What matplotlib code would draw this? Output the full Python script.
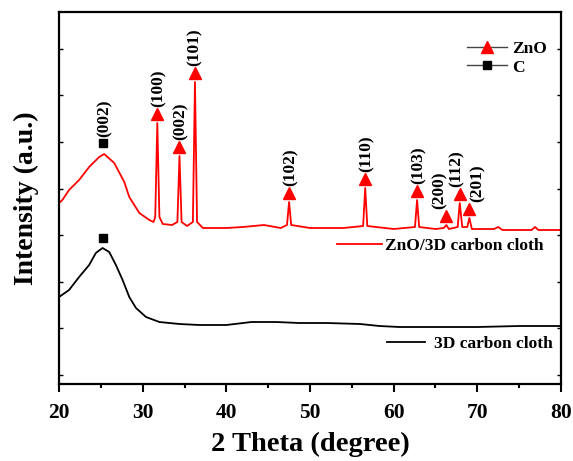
import numpy as np
import matplotlib.pyplot as plt
from matplotlib.lines import Line2D
from matplotlib.ticker import MultipleLocator, NullFormatter

plt.rcParams['font.family'] = ['Liberation Serif', 'DejaVu Serif']
plt.rcParams['font.weight'] = 'bold'

# 2 theta (degree) / intensity (a.u.)
cc_x = [20, 21.2, 22.4, 23.6, 24.4, 25.2, 26.0, 26.8, 27.6, 28.4, 29.2, 30.4, 32,
        34.4, 36.8, 40, 43, 46, 48.7, 52, 56, 58.3, 60.7, 65, 70, 75, 80]
cc_y = [78, 85, 98, 110, 122, 127, 123, 110, 95, 78, 67, 58, 53,
        51, 50, 50, 53, 53, 52, 52, 51, 49, 48, 48, 48, 49, 49]

zno_x = [20, 20.4, 21.2, 22.4, 23.6, 24.8, 25.4, 26.6, 27.8, 28.4, 29.6, 30.8, 31.3,
         31.5, 31.75, 32.0, 32.4, 33.5, 34.15, 34.4, 34.65, 35.3, 36.0, 36.25, 36.5,
         37.2, 40, 42, 44.5, 46.5, 47.25, 47.5, 47.75, 50, 54, 56.35, 56.6, 56.85, 60,
         62.55, 62.8, 63.05, 65, 66.0, 66.3, 66.6, 67.65, 67.9, 68.2, 68.8, 69.05, 69.35,
         72, 72.5, 73, 76.5, 76.9, 77.3, 80]
zno_y = [172, 175, 185, 195, 208, 218, 221, 212, 193, 178, 162, 155, 153,
         158, 252, 158, 151, 150, 153, 219, 153, 149, 153, 293, 153,
         147, 147, 148, 150, 147, 150, 173, 150, 147, 147, 149, 187, 149, 146,
         148, 175, 148, 146, 147, 150, 146, 148, 172, 148, 148, 157, 146,
         146, 148, 145, 145, 148, 145, 145]

zno_peaks = [31.75, 34.4, 36.25, 47.5, 56.6, 62.8, 66.3, 67.9, 69.05]
zno_hkl = ['(100)', '(002)', '(101)', '(102)', '(110)', '(103)', '(200)', '(112)', '(201)']
c_peak = 25.3
c_hkl = '(002)'

fig = plt.figure(figsize=(5.73, 4.61), dpi=100)
ax = fig.add_axes([0.103, 0.167, 0.876, 0.807])

l_cc, = ax.plot(cc_x, cc_y, color='black', lw=1.3)
l_zno, = ax.plot(zno_x, zno_y, color='red', lw=1.3)

# peak markers sit a little above each peak
peak_h = np.interp(zno_peaks, zno_x, zno_y) + 9
ax.plot(zno_peaks, peak_h, ls='none', marker='^', color='red', ms=8)
label_dx = [1, 1, 0, 1, 1, 1, -5, -2, 6]
for x, h, lab, dx in zip(zno_peaks, peak_h, zno_hkl, label_dx):
    ax.annotate(lab, (x, h), xytext=(dx, 5), textcoords='offset points',
                rotation=90, ha='center', va='bottom', fontsize=12.5, fontweight='bold')

c_h = [np.interp(c_peak, zno_x, zno_y) + 11, np.interp(c_peak, cc_x, cc_y) + 11]
ax.plot([c_peak, c_peak], c_h, ls='none', marker='s', color='black', ms=6)
ax.annotate(c_hkl, (c_peak, c_h[0]), xytext=(1, 5), textcoords='offset points',
            rotation=90, ha='center', va='bottom', fontsize=12.5, fontweight='bold')

ax.set_xlim(20, 80)
ax.set_ylim(-9, 363)
ax.xaxis.set_major_locator(MultipleLocator(10))
ax.xaxis.set_minor_locator(MultipleLocator(5))
ax.yaxis.set_major_locator(MultipleLocator(46.6))
ax.yaxis.set_major_formatter(NullFormatter())
ax.tick_params(axis='x', which='major', direction='out', length=6, width=1.5,
               labelsize=15.5, pad=8)
ax.tick_params(axis='x', which='minor', direction='out', length=3, width=1.5)
ax.tick_params(axis='y', direction='in', length=3, width=1, left=True, right=True)
for s in ax.spines.values():
    s.set_linewidth(1.6)

ax.set_xlabel('2 Theta (degree)', fontsize=20.5, fontweight='bold', labelpad=6)
ax.set_ylabel('Intensity (a.u.)', fontsize=20, fontweight='bold', labelpad=11)

# marker key
h1 = Line2D([], [], color='#444444', lw=1, marker='^', mfc='red', mec='red', ms=8)
h2 = Line2D([], [], color='#444444', lw=1, marker='s', mfc='black', mec='black', ms=6)
leg1 = ax.legend([h1, h2], ['ZnO', 'C'], loc='upper right', bbox_to_anchor=(1.003, 0.965),
                 frameon=False, prop={'size': 12.5, 'weight': 'bold'},
                 handlelength=2.3, handletextpad=0.3, labelspacing=0.15)
ax.add_artist(leg1)
leg2 = ax.legend([l_zno], ['ZnO/3D carbon cloth'], loc='center right',
                 bbox_to_anchor=(0.997, (384 - 246) / 372),
                 frameon=False, prop={'size': 12.5, 'weight': 'bold'},
                 handlelength=2.6, handletextpad=0.2)
ax.add_artist(leg2)
ax.legend([l_cc], ['3D carbon cloth'], loc='center right',
          bbox_to_anchor=(1.015, (384 - 344) / 372),
          frameon=False, prop={'size': 12.5, 'weight': 'bold'},
          handlelength=2.2, handletextpad=0.5)

fig.savefig('out.png', dpi=100)
